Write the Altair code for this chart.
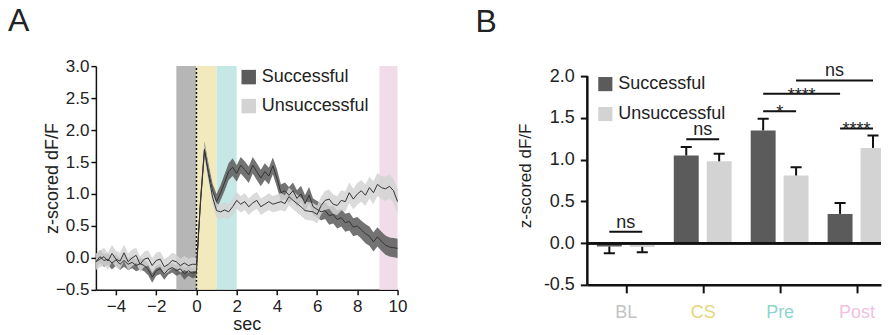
import altair as alt
import pandas as pd

FONT = "Liberation Sans"

# ---------------- Panel A data ----------------
times = [-5.0, -4.8, -4.6, -4.4, -4.2, -4.0, -3.8, -3.6, -3.4, -3.2, -3.0, -2.8, -2.6, -2.4, -2.2,
         -2.0, -1.8, -1.6, -1.4, -1.2, -1.0, -0.8, -0.6, -0.4, -0.2, 0.0, 0.2, 0.4, 0.6, 0.8,
         1.0, 1.2, 1.4, 1.6, 1.8, 2.0, 2.2, 2.4, 2.6, 2.8, 3.0, 3.2, 3.4, 3.6, 3.8,
         4.0, 4.2, 4.4, 4.6, 4.8, 5.0, 5.2, 5.4, 5.6, 5.8, 6.0, 6.2, 6.4, 6.6, 6.8,
         7.0, 7.2, 7.4, 7.6, 7.8, 8.0, 8.2, 8.4, 8.6, 8.8, 9.0, 9.2, 9.4, 9.6, 9.8, 10.0]

succ_mean = [-0.06, 0.02, -0.04, -0.02, -0.08, -0.03, -0.10, -0.04, -0.10, -0.07,
             -0.12, -0.09, -0.12, -0.18, -0.30, -0.20, -0.17, -0.25, -0.18, -0.15,
             -0.20, -0.17, -0.25, -0.20, -0.24, -0.22,
             0.90, 1.70, 1.35, 1.05, 0.88, 1.02, 1.18, 1.35, 1.42, 1.32,
             1.45, 1.38, 1.30, 1.45, 1.35, 1.25, 1.35, 1.28, 1.44, 1.25,
             1.02, 1.05, 0.98, 1.05, 0.93, 1.00, 0.85, 0.98, 0.80, 0.76,
             0.72, 0.74, 0.66, 0.68, 0.60, 0.63, 0.55, 0.57, 0.48, 0.50,
             0.44, 0.38, 0.34, 0.25, 0.33, 0.26, 0.20, 0.17, 0.16, 0.15]

succ_sem = [0.11, 0.10, 0.10, 0.09, 0.10, 0.09, 0.09, 0.10, 0.09, 0.09,
            0.09, 0.09, 0.09, 0.09, 0.09, 0.08, 0.08, 0.09, 0.08, 0.08,
            0.08, 0.08, 0.09, 0.08, 0.08, 0.08,
            0.10, 0.12, 0.12, 0.11, 0.12, 0.12, 0.13, 0.13, 0.14, 0.13,
            0.13, 0.13, 0.13, 0.13, 0.13, 0.13, 0.13, 0.13, 0.13, 0.14,
            0.13, 0.13, 0.13, 0.13, 0.13, 0.13, 0.13, 0.13, 0.13, 0.13,
            0.13, 0.13, 0.14, 0.14, 0.14, 0.14, 0.14, 0.14, 0.14, 0.14,
            0.14, 0.15, 0.15, 0.15, 0.15, 0.15, 0.15, 0.15, 0.15, 0.15]

unsucc_mean = [-0.06, -0.02, 0.02, -0.05, 0.07, -0.02, -0.05, 0.08, -0.06, 0.00,
               0.04, -0.10, -0.02, 0.00, -0.12, -0.04, -0.02, -0.14, -0.10, -0.04,
               -0.06, -0.12, -0.08, -0.12, -0.10, -0.10,
               0.85, 1.68, 1.30, 0.95, 0.74, 0.72, 0.75, 0.72, 0.80, 0.90,
               0.84, 0.88, 0.80, 0.86, 0.90, 0.80, 0.84, 0.88, 0.84, 0.86,
               0.88, 0.85, 0.96, 0.90, 0.85, 0.80, 0.74, 0.73, 0.72, 0.68,
               0.82, 0.90, 0.92, 0.84, 0.82, 0.90, 0.88, 1.02, 0.92, 1.00,
               1.05, 0.98, 1.10, 1.02, 1.15, 1.10, 1.08, 1.12, 1.05, 0.88]

unsucc_sem = [0.13, 0.13, 0.14, 0.13, 0.13, 0.13, 0.13, 0.13, 0.13, 0.13,
              0.12, 0.12, 0.12, 0.12, 0.12, 0.12, 0.12, 0.12, 0.12, 0.12,
              0.11, 0.11, 0.11, 0.11, 0.11, 0.10,
              0.10, 0.12, 0.11, 0.11, 0.11, 0.11, 0.12, 0.12, 0.12, 0.13,
              0.13, 0.13, 0.13, 0.13, 0.13, 0.13, 0.13, 0.13, 0.13, 0.13,
              0.13, 0.13, 0.14, 0.14, 0.14, 0.14, 0.14, 0.14, 0.14, 0.14,
              0.14, 0.15, 0.15, 0.15, 0.15, 0.16, 0.16, 0.16, 0.16, 0.17,
              0.17, 0.17, 0.17, 0.18, 0.18, 0.18, 0.19, 0.19, 0.19, 0.19]

band_names = ["BL", "CS", "Pre", "Post"]
band_start = [-1.0, 0.0, 1.0, 9.1]
band_end = [0.0, 1.0, 2.0, 10.0]
band_colors = ["#b6b6b6", "#f2eabc", "#c5e8e6", "#f1ddea"]

groups = ["Successful", "Unsuccessful"]
group_colors = ["#5b5b5b", "#d3d3d3"]

x_domain_a = [-5, 10]
y_domain_a = [-0.5, 3.0]
x_ticks_a = [-4, -2, 0, 2, 4, 6, 8, 10]
y_ticks_a = [-0.5, 0.0, 0.5, 1.0, 1.5, 2.0, 2.5, 3.0]

# ---------------- Panel B data ----------------
categories = ["BL", "CS", "Pre", "Post"]
category_colors = ["#c3c3c3", "#e6d57a", "#8ed5cf", "#f0c1e1"]
succ_bar = [-0.04, 1.05, 1.35, 0.35]
succ_err = [0.08, 0.10, 0.14, 0.13]
unsucc_bar = [-0.045, 0.98, 0.81, 1.14]
unsucc_err = [0.065, 0.09, 0.10, 0.15]
y_ticks_b = [-0.5, 0.0, 0.5, 1.0, 1.5, 2.0]
y_axis_b = [-0.5, 2.0]
x_domain_b = [0, 3.818]   # the right edge of the panel is cut by the page, as in the original
y_domain_b = [-0.5, 2.12]

comp_from_cat = ["BL", "CS", "Pre", "Post", "Pre", "Pre"]
comp_from_grp = ["Successful", "Successful", "Successful", "Successful", "Successful", "Unsuccessful"]
comp_to_cat = ["BL", "CS", "Pre", "Post", "Post", "Post"]
comp_to_grp = ["Unsuccessful", "Unsuccessful", "Unsuccessful", "Unsuccessful", "Successful", "Unsuccessful"]
comp_height = [0.136, 1.245, 1.58, 1.373, 1.788, 1.948]
comp_label = ["ns", "ns", "*", "****", "****", "ns"]

# ---------------- build tables ----------------
rows = []
for t, m, s in zip(times, succ_mean, succ_sem):
    rows.append({"t": t, "group": "Successful", "mean": m, "lo": m - s, "hi": m + s})
for t, m, s in zip(times, unsucc_mean, unsucc_sem):
    rows.append({"t": t, "group": "Unsuccessful", "mean": m, "lo": m - s, "hi": m + s})
trace_df = pd.DataFrame(rows)
bands_df = pd.DataFrame({"epoch": band_names, "start": band_start, "end": band_end,
                         "bottom": [y_domain_a[0]] * 4, "top": [y_domain_a[1]] * 4})

GROUP_OFFSET = {"Successful": -0.214, "Unsuccessful": 0.214}
HALF_BAR = 0.162
HALF_CAP = 0.072


def center(cat, grp):
    return categories.index(cat) + 0.5 + GROUP_OFFSET[grp]


bar_rows = []
for i, cat in enumerate(categories):
    for grp, vals, errs in (("Successful", succ_bar, succ_err), ("Unsuccessful", unsucc_bar, unsucc_err)):
        c = center(cat, grp)
        v = vals[i]
        e = errs[i] if v >= 0 else -errs[i]
        bar_rows.append({"cat": cat, "group": grp, "mean": v, "end": v + e, "zero": 0.0,
                         "xc": c, "x0": c - HALF_BAR, "x1": c + HALF_BAR,
                         "c0": c - HALF_CAP, "c1": c + HALF_CAP})
bar_df = pd.DataFrame(bar_rows)

comp_rows = []
for fc, fg, tc, tg, h, lab in zip(comp_from_cat, comp_from_grp, comp_to_cat, comp_to_grp, comp_height, comp_label):
    a, b = center(fc, fg), center(tc, tg)
    comp_rows.append({"xa": a, "xb": b, "xm": (a + b) / 2, "h": h, "label": lab})
comp_df = pd.DataFrame(comp_rows)
axis_line_df = pd.DataFrame({"x": [0.0], "lo": [y_axis_b[0]], "hi": [y_axis_b[1]]})

# ---------------- Panel A ----------------
xa_scale = alt.Scale(domain=x_domain_a, nice=False, zero=False)
ya_scale = alt.Scale(domain=y_domain_a, nice=False, zero=False)

axis_a_common = dict(labelFont=FONT, titleFont=FONT, labelFontSize=17, titleFontSize=18,
                     titleFontWeight="normal", labelColor="#222", titleColor="#222",
                     domainColor="#111", tickColor="#111", domainWidth=1.5, tickWidth=1.5,
                     tickSize=5, grid=False, labelOverlap=False, labelFlush=False)
x_axis_a = alt.Axis(values=x_ticks_a, title="sec", labelPadding=4, titlePadding=1, **axis_a_common)
y_axis_a = alt.Axis(values=y_ticks_a, format=".1f", title="z-scored dF/F", labelPadding=2,
                    titlePadding=-6, **axis_a_common)


def XA(field):
    return alt.X(field, type="quantitative", scale=xa_scale, axis=x_axis_a)


def YA(field):
    return alt.Y(field, type="quantitative", scale=ya_scale, axis=y_axis_a)


bands = alt.Chart(bands_df).mark_rect().encode(
    x=XA("start"), x2="end", y=YA("bottom"), y2="top",
    color=alt.Color("epoch:N", scale=alt.Scale(domain=band_names, range=band_colors), legend=None),
)

zero_line = alt.Chart(bands_df).transform_filter("datum.epoch == 'CS'").mark_rule(
    color="#111", strokeWidth=1.5, strokeDash=[2, 2]
).encode(x=XA("start"), y=YA("bottom"), y2="top")

areas = alt.Chart(trace_df).mark_area(opacity=0.85).encode(
    x=XA("t"), y=YA("lo"), y2="hi",
    color=alt.Color("group:N", scale=alt.Scale(domain=groups, range=group_colors),
                    legend=alt.Legend(orient="none", legendX=144, legendY=2, title=None,
                                      symbolType="square", symbolSize=210, symbolOpacity=1,
                                      symbolStrokeWidth=0, labelFont=FONT, labelFontSize=18,
                                      labelColor="#222", rowPadding=11, labelOffset=4, padding=0)),
)

lines = alt.Chart(trace_df).mark_line(color="#333", strokeWidth=1).encode(
    x=XA("t"), y=YA("mean"), detail="group:N"
)

panel_a = alt.layer(bands, zero_line, areas, lines).resolve_scale(color="independent").properties(
    width=302, height=224,
    title=alt.TitleParams("A", anchor="start", frame="group", fontSize=32, fontWeight="normal",
                          font=FONT, color="#222", offset=19, dx=-88),
)

# ---------------- Panel B ----------------
xb_scale = alt.Scale(domain=x_domain_b, nice=False, zero=False)
yb_scale = alt.Scale(domain=y_domain_b, nice=False, zero=False)

label_expr = "[" + ",".join("'%s'" % c for c in categories) + "][floor(datum.value)]"
label_color = {"condition": [{"test": "datum.value < %d" % (i + 1), "value": col}
                             for i, col in enumerate(category_colors[:-1])],
               "value": category_colors[-1]}

x_axis_b = alt.Axis(values=[0.5, 1.5, 2.5, 3.5], labelExpr=label_expr, labelColor=label_color,
                    title=None, labelFont=FONT, labelFontSize=18, labelPadding=11,
                    domainColor="#111", domainWidth=2.5, tickColor="#111", tickWidth=2,
                    tickSize=8, grid=False, labelOverlap=False, labelFlush=False)
y_axis_b_def = alt.Axis(values=y_ticks_b, format=".1f",
                        labelExpr="replace(datum.label, '\u2212', '-')",
                        title="z-scored dF/F", titleFont=FONT, titleFontSize=17,
                        titleFontWeight="normal", titleColor="#222", titlePadding=9,
                        labelFont=FONT, labelFontSize=18, labelColor="#222", labelPadding=6,
                        labelFlush=False, labelOverlap=False, domain=False,
                        tickColor="#111", tickWidth=2, tickSize=7, grid=False)


def XB(field):
    return alt.X(field, type="quantitative", scale=xb_scale, axis=x_axis_b)


def YB(field):
    return alt.Y(field, type="quantitative", scale=yb_scale, axis=y_axis_b_def)


bars = alt.Chart(bar_df).mark_bar(clip=True).encode(
    x=XB("x0"), x2="x1", y=YB("mean"), y2="zero",
    color=alt.Color("group:N", scale=alt.Scale(domain=groups, range=group_colors),
                    legend=alt.Legend(orient="none", legendX=9, legendY=9, title=None,
                                      symbolType="square", symbolSize=200, symbolOpacity=1,
                                      symbolStrokeWidth=0, labelFont=FONT, labelFontSize=18,
                                      labelColor="#222", rowPadding=12, labelOffset=4, padding=0)),
)

y_axis_line = alt.Chart(axis_line_df).mark_rule(color="#111", strokeWidth=2.5).encode(
    x=XB("x"), y=YB("lo"), y2="hi"
)

baseline = alt.Chart(bar_df).mark_rule(color="#111", strokeWidth=2.5).encode(y=YB("zero"))

err_stem = alt.Chart(bar_df).mark_rule(color="#111", strokeWidth=2).encode(
    x=XB("xc"), y=YB("mean"), y2="end"
)
err_cap = alt.Chart(bar_df).mark_rule(color="#111", strokeWidth=2, clip=True).encode(
    x=XB("c0"), x2="c1", y=YB("end")
)

comp_lines = alt.Chart(comp_df).mark_rule(color="#111", strokeWidth=2).encode(
    x=XB("xa"), x2="xb", y=YB("h")
)
comp_ns = alt.Chart(comp_df).transform_filter("datum.label == 'ns'").mark_text(
    font=FONT, fontSize=18, color="#222", baseline="alphabetic", dy=-4
).encode(x=XB("xm"), y=YB("h"), text="label:N")
comp_star = alt.Chart(comp_df).transform_filter("datum.label != 'ns'").mark_text(
    font=FONT, fontSize=18, color="#222", baseline="alphabetic", dy=7
).encode(x=XB("xm"), y=YB("h"), text="label:N")

panel_b = alt.layer(bars, y_axis_line, baseline, err_stem, err_cap, comp_lines, comp_ns,
                    comp_star).properties(
    width=294, height=219,
    title=alt.TitleParams("B", anchor="start", frame="group", fontSize=32, fontWeight="normal",
                          font=FONT, color="#222", offset=24, dx=-112),
)

chart = alt.hconcat(panel_a, panel_b, spacing=68).resolve_scale(color="independent").properties(
    padding={"top": -3, "left": 0, "right": 0, "bottom": 0}
).configure(font=FONT).configure_view(stroke=None)

chart.save("out.html", embed_options={"renderer": "svg", "actions": False})
